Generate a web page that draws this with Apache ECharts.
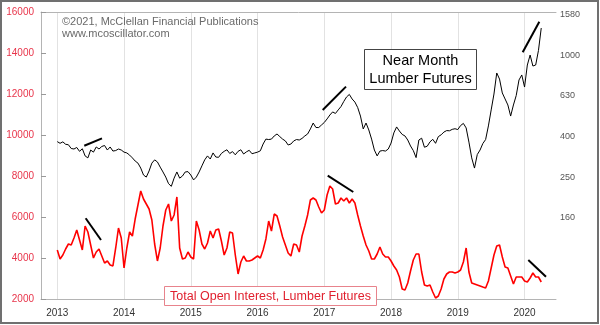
<!DOCTYPE html>
<html><head><meta charset="utf-8">
<script src="https://cdn.jsdelivr.net/npm/echarts@6/dist/echarts.min.js"></script>
<style>html,body{margin:0;padding:0;background:#fff}#c{width:600px;height:325px}</style>
</head><body><div id="c"></div>
<script>
// ---- data ----
const startYear = 2013;          // first observation
const stepYears = 1 / 24;        // semi-monthly observations
const yearTicks = [2013, 2014, 2015, 2016, 2017, 2018, 2019, 2020];

// Near month lumber futures price (right, log scale)
const lumberPrice = [
375,368,374,364,362,347,345,351,336,346,
319,312,341,333,353,345,355,359,341,353,
337,339,345,341,333,330,322,312,301,294,
278,257,251,269,294,305,298,281,266,251,
233,226,248,266,248,254,266,267,257,243,
251,266,285,305,319,308,330,315,314,328,
336,342,328,335,323,336,342,326,334,340,
327,330,333,338,365,386,384,386,400,409,
397,386,378,361,365,378,384,382,389,400,
409,433,463,440,440,453,466,485,507,525,
516,537,558,591,622,640,608,587,552,501,
433,463,428,386,341,319,337,339,337,345,
369,414,443,423,407,400,382,357,339,313,
382,390,352,356,374,385,368,397,405,418,
425,424,431,434,430,450,461,438,373,312,
278,324,341,367,384,448,537,643,816,762,
651,608,568,501,568,632,754,798,696,893,
1000,883,893,1053,1358
];

// Total open interest, lumber futures (left scale)
const openInterest = [
4390,3951,4146,4439,4683,4634,4976,5366,4878,4390,
5561,5268,4634,4000,4293,4439,4098,3756,3854,3659,
3610,4488,5463,4976,3512,4488,5268,5073,5902,6585,
7268,6878,6634,6390,5854,4683,3854,4488,5561,6341,
6634,5805,6098,6976,4488,3951,4000,4293,4049,3951,
5805,5366,4683,4439,4732,5317,4976,5366,5415,4829,
4146,4488,5268,5219,4146,3220,3805,4098,3854,3854,
3902,4000,4098,4000,4390,4927,5805,5317,6146,6049,
5561,5024,4634,4244,4098,4683,4634,4293,5073,5561,
6098,6829,6927,6829,6488,6195,6341,7073,7512,7366,
6634,6683,6927,6780,6927,6683,6878,6683,6098,5561,
5073,4634,4341,3951,3951,4195,4537,4195,4049,4049,
3854,3610,3415,3073,2488,2439,2780,3366,3902,4195,
4195,3317,2683,2634,2683,2341,2049,2146,2488,2976,
3220,3317,3317,3268,3317,3415,3805,4488,3317,2780,
2732,2683,2634,2585,2537,2878,3512,4146,4585,4634,
4049,3561,3512,3122,2732,3073,3073,3073,2878,2829,
3024,3268,3073,3073,2829
];

// hand-drawn divergence lines: [year1, value1, year2, value2]
const priceTrendLines = [[2013.404, 358, 2013.670, 389], [2016.976, 537, 2017.325, 699], [2019.972, 1031, 2020.221, 1459]];
const oiTrendLines = [[2013.425, 5937, 2013.655, 4878], [2017.051, 8015, 2017.434, 7219], [2020.056, 3902, 2020.321, 3088]];

// ---- chart ----
const FONT = "'Liberation Sans', Arial, sans-serif";
const xs = lumberPrice.map((_, i) => startYear + i * stepYears);
const X_MIN = 2012.756, X_MAX = 2020.471;
const LOG_MIN = 1.8, LOG_MAX = 3.2117;

function trendData(lines, tf) {
  return lines.map(t => [{ coord: [t[0], tf(t[1])] }, { coord: [t[2], tf(t[3])] }]);
}
const markLineBase = {
  silent: true, symbol: ['none', 'none'], label: { show: false },
  lineStyle: { color: '#000', width: 2, type: 'solid' }, emphasis: { disabled: true }, animation: false
};

const chart = echarts.init(document.getElementById('c'), null, { renderer: 'canvas' });
chart.setOption({
  animation: false,
  backgroundColor: '#fff',
  grid: { left: 41, right: 44, top: 12, bottom: 26, containLabel: false },
  xAxis: [{
    type: 'value', min: X_MIN, max: X_MAX,
    axisLine: { show: true, onZero: false, lineStyle: { color: '#b4b4b4', width: 1 } },
    axisTick: { show: false, customValues: yearTicks },
    axisLabel: { customValues: yearTicks, color: '#333', fontSize: 10, margin: 9, fontFamily: FONT, formatter: v => String(v) },
    splitLine: { show: true, lineStyle: { color: '#e2e2e2', width: 1 } }
  }, {
    type: 'value', position: 'top', min: X_MIN, max: X_MAX,
    axisLine: { show: true, onZero: false, lineStyle: { color: '#b4b4b4', width: 1 } },
    axisTick: { show: false }, axisLabel: { show: false }, splitLine: { show: false }
  }],
  yAxis: [{
    type: 'value', position: 'left', min: 2000, max: 16000, interval: 2000,
    axisLine: { show: true, onZero: false, lineStyle: { color: '#b4b4b4', width: 1 } },
    axisTick: { show: true, inside: true, length: 5, lineStyle: { color: '#999' } },
    axisLabel: { color: '#e8344a', fontSize: 10, margin: 7, fontFamily: FONT, formatter: v => String(v) },
    splitLine: { show: false }
  }, {
    type: 'value', position: 'right', min: LOG_MIN, max: LOG_MAX, interval: 0.2,
    axisLine: { show: false }, axisTick: { show: false }, splitLine: { show: false },
    axisLabel: {
      color: '#555', fontSize: 9, margin: 4, fontFamily: FONT,
      formatter: v => (v < 2.1 || v > 3.205) ? '' : String(Math.round(Math.pow(10, v) / 10) * 10)
    }
  }],
  series: [{
    type: 'line', name: 'Total Open Interest', xAxisIndex: 0, yAxisIndex: 0,
    data: xs.map((x, i) => [x, openInterest[i]]),
    symbol: 'none', showSymbol: false, silent: true,
    lineStyle: { color: '#ff0000', width: 1.6 },
    markLine: Object.assign({}, markLineBase, { data: trendData(oiTrendLines, v => v) })
  }, {
    type: 'line', name: 'Near Month Lumber Futures', xAxisIndex: 0, yAxisIndex: 1,
    data: xs.map((x, i) => [x, Math.log10(lumberPrice[i])]),
    symbol: 'none', showSymbol: false, silent: true,
    lineStyle: { color: '#000', width: 1 },
    markLine: Object.assign({}, markLineBase, { data: trendData(priceTrendLines, v => Math.log10(v)) })
  }],
  graphic: [
    { type: 'rect', silent: true, z: 100, shape: { x: 1, y: 1, width: 597, height: 322 },
      style: { fill: 'none', stroke: '#707070', lineWidth: 2 } },
    { type: 'text', silent: true, z: 100, left: 62, top: 16.5,
      style: { text: '\u00a92021, McClellan Financial Publications\nwww.mcoscillator.com', fill: '#6a6a6a',
        font: '11px ' + FONT, lineHeight: 11.5 } },
    { type: 'rect', silent: true, z: 100, shape: { x: 364.5, y: 49.5, width: 112, height: 40 },
      style: { fill: '#fff', stroke: '#444', lineWidth: 1 } },
    { type: 'text', silent: true, z: 101, x: 420.5, y: 60.5,
      style: { text: 'Near Month', fill: '#000', font: '14.5px ' + FONT, textAlign: 'center', textVerticalAlign: 'middle' } },
    { type: 'text', silent: true, z: 101, x: 420.5, y: 79,
      style: { text: 'Lumber Futures', fill: '#000', font: '14.5px ' + FONT, textAlign: 'center', textVerticalAlign: 'middle' } },
    { type: 'rect', silent: true, z: 100, shape: { x: 164.5, y: 286.5, width: 212, height: 19 },
      style: { fill: '#fff', stroke: '#e8838c', lineWidth: 1 } },
    { type: 'text', silent: true, z: 101, x: 270.5, y: 296.5,
      style: { text: 'Total Open Interest, Lumber Futures', fill: '#e0202e', font: '12.5px ' + FONT, textAlign: 'center', textVerticalAlign: 'middle' } }
  ]
});
</script>
</body></html>
